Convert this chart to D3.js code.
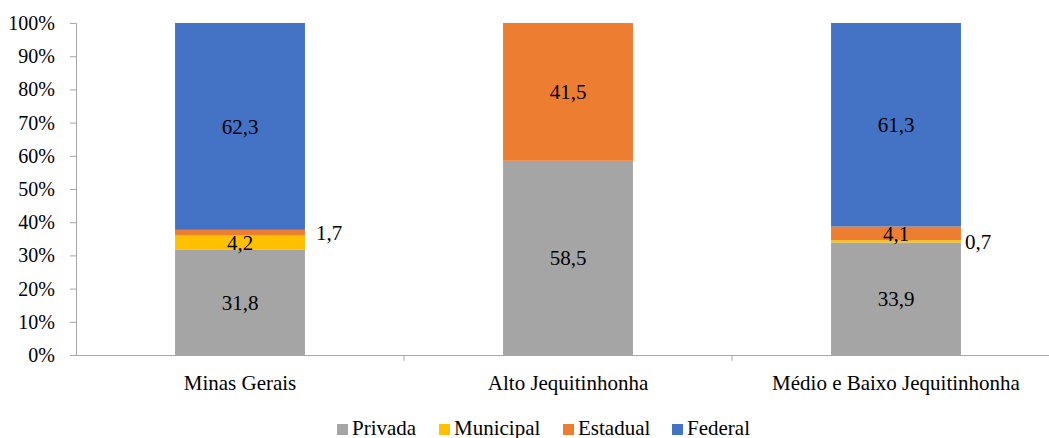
<!DOCTYPE html>
<html>
<head>
<meta charset="utf-8">
<script src="https://cdn.jsdelivr.net/npm/d3@7"></script>
</head>
<body style="margin:0">
<svg id="chart" width="1049" height="438"></svg>
<script>
const categories = ['Minas Gerais', 'Alto Jequitinhonha', 'Médio e Baixo Jequitinhonha'];
const seriesNames = ['Privada', 'Municipal', 'Estadual', 'Federal'];
const seriesColors = ['#A5A5A5', '#FFC000', '#ED7D31', '#4472C4'];
const privada = [31.8, 58.5, 33.9];
const municipal = [4.2, 0, 0.7];
const estadual = [1.7, 41.5, 4.1];
const federal = [62.3, 0, 61.3];
const yTicks = [0, 10, 20, 30, 40, 50, 60, 70, 80, 90, 100];

// thin segments get their label beside the bar (gap from bar edge, px)
const outsideLabels = {
  'Minas Gerais|Estadual': 11,
  'Médio e Baixo Jequitinhonha|Municipal': 4
};

const FONT = 'Liberation Serif';
const FS = '21px';

// serif text helper
function serif(sel, size) {
  return sel
    .attr('font-family', FONT)
    .attr('font-size', size)
    .style('font-family', `"${FONT}"`, 'important')
    .style('font-size', size)
    .attr('fill', '#000');
}

const svg = d3.select('#chart');
const plotLeft = 76, plotTop = 23, plotBottom = 355;

const rows = categories.map((c, i) => ({
  cat: c, Privada: privada[i], Municipal: municipal[i], Estadual: estadual[i], Federal: federal[i]
}));
const stack = d3.stack().keys(seriesNames).offset(d3.stackOffsetExpand)(rows);

const x = d3.scaleBand().domain(categories).range([plotLeft, 1060]).padding(0);
const barW = x.bandwidth() * 0.396;
const y = d3.scaleLinear().domain([0, 1]).range([plotBottom, plotTop]);

const axisColor = '#A6A6A6';

// bars
stack.forEach((layer, si) => {
  const g = svg.append('g').attr('fill', seriesColors[si]);
  layer.forEach(d => {
    if (d[1] - d[0] <= 0) return;
    const cx = x(d.data.cat) + x.bandwidth() / 2;
    g.append('rect')
      .attr('x', cx - barW / 2)
      .attr('y', y(d[1]))
      .attr('width', barW)
      .attr('height', y(d[0]) - y(d[1]));
  });
});

// value labels
stack.forEach(layer => {
  layer.forEach(d => {
    const v = d.data[layer.key];
    if (!v) return;
    const cx = x(d.data.cat) + x.bandwidth() / 2;
    const cy = (y(d[0]) + y(d[1])) / 2;
    const gap = outsideLabels[d.data.cat + '|' + layer.key];
    const outside = gap !== undefined;
    serif(svg.append('text'), FS)
      .attr('x', outside ? cx + barW / 2 + gap : cx)
      .attr('y', cy)
      .attr('dy', '0.35em')
      .attr('text-anchor', outside ? 'start' : 'middle')
      .text(d3.format('.1f')(v).replace('.', ','));
  });
});

// y axis
const yAxis = svg.append('g')
  .attr('transform', `translate(${plotLeft},0)`)
  .call(d3.axisLeft(y).tickValues(yTicks.map(t => t / 100)).tickSize(6).tickPadding(15)
    .tickFormat(t => Math.round(t * 100) + '%'));
yAxis.attr('font-family', FONT);
yAxis.select('.domain').attr('stroke', axisColor);
yAxis.selectAll('.tick line').attr('stroke', axisColor);
serif(yAxis.selectAll('.tick text'), '20px');

// x axis
const xAxis = svg.append('g')
  .attr('transform', `translate(0,${plotBottom})`)
  .call(d3.axisBottom(x).tickSize(0).tickPadding(20));
xAxis.attr('font-family', FONT);
xAxis.select('.domain').attr('stroke', axisColor);
serif(xAxis.selectAll('.tick text'), FS);
// separators between categories
svg.append('g').selectAll('line')
  .data(categories.slice(1))
  .join('line')
  .attr('x1', d => x(d)).attr('x2', d => x(d))
  .attr('y1', plotBottom).attr('y2', plotBottom + 6)
  .attr('stroke', axisColor);

// legend
const legendX = [337, 439, 563, 672];
const legend = svg.append('g');
seriesNames.forEach((n, i) => {
  legend.append('rect')
    .attr('x', legendX[i]).attr('y', 424)
    .attr('width', 11).attr('height', 11)
    .attr('fill', seriesColors[i]);
  serif(legend.append('text'), FS)
    .attr('x', legendX[i] + 15).attr('y', 435)
    .text(n);
});
</script>
</body>
</html>
